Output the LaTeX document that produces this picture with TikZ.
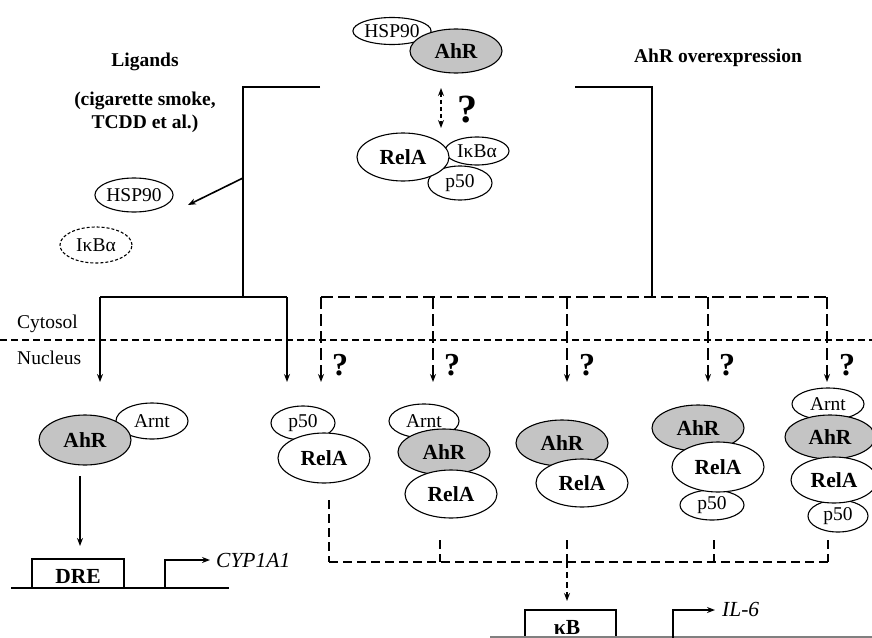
\documentclass[tikz,border=0pt]{standalone}
\usepackage{fontspec}
\setmainfont{Liberation Serif}
\usetikzlibrary{shapes.geometric,arrows.meta}
\definecolor{ahrgray}{RGB}{196,196,196}
\begin{document}
\begin{tikzpicture}[x=1pt,y=-1pt,
  prot/.style={ellipse, draw, line width=1.1pt, fill=white, inner sep=0pt, font=\fontsize{19.5}{20}\selectfont},
  bigprot/.style={prot, font=\bfseries\fontsize{21.5}{22}\selectfont},
  ahrprot/.style={bigprot, fill=ahrgray},
  lbl/.style={font=\fontsize{19.5}{22}\selectfont, inner sep=0pt},
  blbl/.style={font=\bfseries\fontsize{19.5}{23}\selectfont, inner sep=0pt, align=center},
  qm/.style={font=\bfseries\fontsize{32}{32}\selectfont, inner sep=0pt},
  conn/.style={line width=1.6pt},
  dconn/.style={line width=1.6pt, dash pattern=on 12pt off 5pt},
  arr/.style={-{Stealth[length=8pt,width=6pt]}},
  boxst/.style={draw, line width=1.6pt, inner sep=0pt}
]
\useasboundingbox (0,0) rectangle (872,637);

% ---------- top complexes ----------
\node[prot, minimum width=78pt, minimum height=27pt] (hspT) at (392,31) {HSP90};
\node[ahrprot, minimum width=92pt, minimum height=44pt] (ahrT) at (456,51) {AhR};
\node[prot, minimum width=64pt, minimum height=28pt] (ikbT) at (477,151) {IκBα};
\node[prot, minimum width=64pt, minimum height=34pt] (p50T) at (460,183) {p50};
\node[bigprot, minimum width=92pt, minimum height=48pt] (relaT) at (403,157) {RelA};
\coordinate (qa) at (441,88);
\coordinate (qb) at (441,128);
\draw[line width=1.6pt, dash pattern=on 4pt off 3pt, {Stealth[length=8pt,width=6pt]}-{Stealth[length=8pt,width=6pt]}] (qa) -- (qb);
\node[qm, font=\bfseries\fontsize{40}{40}\selectfont] (qT) at (467,110) {?};

% ---------- labels ----------
\node[blbl] (lig) at (145,62) {Ligands};
\node[blbl] (cig) at (145,112) {(cigarette smoke,\\TCDD et al.)};
\node[blbl] (over) at (718,58) {AhR overexpression};
\node[lbl, anchor=west] (cyt) at (17,324) {Cytosol};
\node[lbl, anchor=west] (nuc) at (17,358) {Nucleus};

% ---------- left released proteins ----------
\node[prot, minimum width=76pt, minimum height=34pt] (hspL) at (134,195) {HSP90};
\node[prot, dashed, dash pattern=on 3pt off 2pt, minimum width=72pt, minimum height=36pt] (ikbL) at (96,245) {IκBα};

% ---------- ligand path ----------
\coordinate (lA) at (320,87);
\coordinate (lB) at (243,87);
\coordinate (lC) at (243,297);
\coordinate (lBr) at (243,178);
\coordinate (lBrEnd) at (188,205);
\coordinate (lL) at (100,297);
\coordinate (lR) at (287,297);
\coordinate (lLend) at (100,382);
\coordinate (lRend) at (287,382);
\draw[conn] (lA) -- (lB) -- (lC);
\draw[conn, arr] (lBr) -- (lBrEnd);
\draw[conn] (lL) -- (lR);
\draw[conn, arr] (lL) -- (lLend);
\draw[conn, arr] (lR) -- (lRend);

% ---------- overexpression path ----------
\coordinate (rA) at (575,87);
\coordinate (rB) at (652,87);
\coordinate (rC) at (652,297);
\draw[conn] (rA) -- (rB) -- (rC);
\coordinate (d1) at (321,297);
\coordinate (d2) at (433,297);
\coordinate (d3) at (567,297);
\coordinate (d4) at (708,297);
\coordinate (d5) at (827,297);
\coordinate (e1) at (321,382);
\coordinate (e2) at (433,382);
\coordinate (e3) at (567,382);
\coordinate (e4) at (708,382);
\coordinate (e5) at (827,382);
\draw[dconn] (d1) -- (d5);
\foreach \i in {1,...,5} {
  \draw[dconn, arr] (d\i) -- (e\i);
}
\node[qm] (q1) at (340,365) {?};
\node[qm] (q2) at (452,365) {?};
\node[qm] (q3) at (587,365) {?};
\node[qm] (q4) at (727,365) {?};
\node[qm] (q5) at (847,365) {?};

% ---------- separator ----------
\coordinate (sepL) at (0,340);
\coordinate (sepR) at (872,340);
\draw[line width=1.5pt, dash pattern=on 7pt off 4pt] (sepL) -- (sepR);

% ---------- nuclear complexes ----------
% left AhR/Arnt
\node[prot, minimum width=72pt, minimum height=36pt] (arntL) at (152,421) {Arnt};
\node[ahrprot, minimum width=92pt, minimum height=50pt] (ahrL) at (85,440) {AhR};
% complex 1
\node[prot, minimum width=64pt, minimum height=34pt] (p50A) at (303,423) {p50};
\node[bigprot, minimum width=92pt, minimum height=50pt] (relaA) at (324,458) {RelA};
% complex 2
\node[prot, minimum width=70pt, minimum height=34pt] (arntB) at (424,421) {Arnt};
\node[ahrprot, minimum width=92pt, minimum height=46pt] (ahrB) at (444,452) {AhR};
\node[bigprot, minimum width=92pt, minimum height=48pt] (relaB) at (451,494) {RelA};
% complex 3
\node[ahrprot, minimum width=92pt, minimum height=46pt] (ahrC) at (562,443) {AhR};
\node[bigprot, minimum width=92pt, minimum height=48pt] (relaC) at (582,483) {RelA};
% complex 4
\node[ahrprot, minimum width=92pt, minimum height=46pt] (ahrD) at (698,428) {AhR};
\node[prot, minimum width=64pt, minimum height=30pt] (p50D) at (712,505) {p50};
\node[bigprot, minimum width=92pt, minimum height=50pt] (relaD) at (718,467) {RelA};
% complex 5
\node[prot, minimum width=72pt, minimum height=32pt] (arntE) at (828,404) {Arnt};
\node[ahrprot, minimum width=90pt, minimum height=44pt] (ahrE) at (830,437) {AhR};
\node[prot, minimum width=60pt, minimum height=32pt] (p50E) at (838,516) {p50};
\node[bigprot, minimum width=86pt, minimum height=46pt] (relaE) at (834,480) {RelA};

% ---------- DRE / CYP1A1 ----------
\coordinate (ahrLdown) at (80,476);
\coordinate (dreTop) at (80,546);
\draw[conn, arr] (ahrLdown) -- (dreTop);
\node[boxst, minimum width=92pt, minimum height=29pt, font=\bfseries\fontsize{21.5}{22}\selectfont, text depth=0pt] (dre) at (78,573.5) {\raisebox{-5pt}{DRE}};
\coordinate (dnaL1) at (11,588);
\coordinate (dnaR1) at (229,588);
\draw[conn] (dnaL1) -- (dnaR1);
\coordinate (tss1) at (165,588);
\coordinate (tss1up) at (165,560);
\coordinate (tss1end) at (210,560);
\draw[conn, arr] (tss1) -- (tss1up) -- (tss1end);
\node[font=\itshape\fontsize{21.5}{22}\selectfont, anchor=west, inner sep=0pt] (cyp) at (216,560) {CYP1A1};

% ---------- NF-kB output ----------
\coordinate (s1) at (329,500);
\coordinate (s2) at (440,540);
\coordinate (s3) at (567,540);
\coordinate (s4) at (714,540);
\coordinate (s5) at (828,540);
\coordinate (t1) at (329,562);
\coordinate (t2) at (440,562);
\coordinate (t3) at (567,562);
\coordinate (t4) at (714,562);
\coordinate (t5) at (828,562);
\draw[line width=1.5pt, dash pattern=on 9pt off 5pt] (t1) -- (t5);
\foreach \i in {1,...,5} {
  \draw[line width=1.5pt, dash pattern=on 9pt off 5pt] (s\i) -- (t\i);
}
\coordinate (kbTop) at (567,601);
\draw[line width=1.5pt, dash pattern=on 6pt off 4pt, arr] (t3) -- (kbTop);
\draw[line width=1.6pt] (525,650) -- (525,610) -- (616,610) -- (616,650);
\node[font=\bfseries\fontsize{21.5}{22}\selectfont, inner sep=0pt, anchor=base] (kb) at (567,634) {κB};
\coordinate (dnaL2) at (490,637);
\coordinate (dnaR2) at (872,637);
\draw[line width=1.2pt, gray] (dnaL2) -- (dnaR2);
\coordinate (tss2) at (673,640);
\coordinate (tss2up) at (673,610);
\coordinate (tss2end) at (715,610);
\draw[conn, arr] (tss2) -- (tss2up) -- (tss2end);
\node[font=\itshape\fontsize{21.5}{22}\selectfont, anchor=west, inner sep=0pt] (il6) at (722,609) {IL-6};
\end{tikzpicture}
\end{document}
